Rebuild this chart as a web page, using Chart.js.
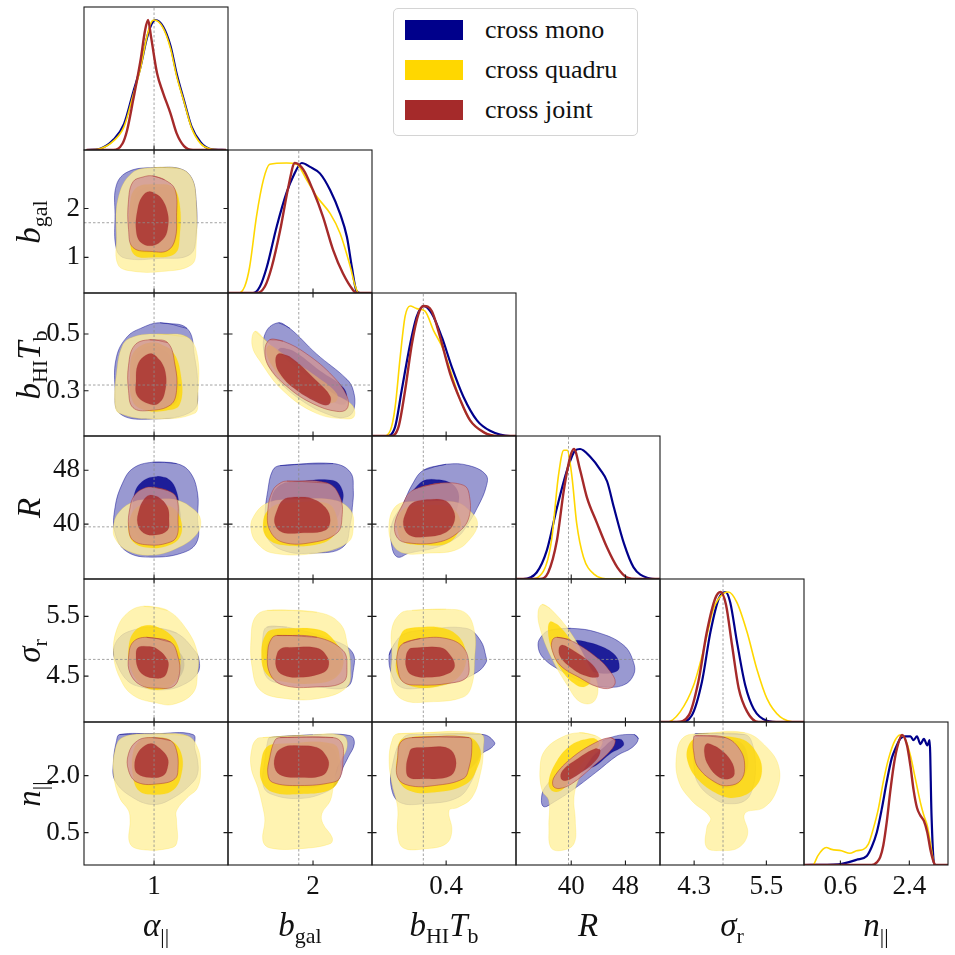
<!DOCTYPE html>
<html>
<head>
<meta charset="utf-8">
<script src="https://cdn.jsdelivr.net/npm/chart.js@4.4.1/dist/chart.umd.min.js"></script>
<style>
  html, body { margin: 0; padding: 0; background: #fff; }
  #wrap { position: relative; width: 955px; height: 955px; overflow: hidden; font-family: "Liberation Serif", serif; color: #111; }
  #wrap canvas { position: absolute; }
  .lab { position: absolute; font-size: 33px; line-height: 1; white-space: nowrap; }
  .lab i { font-style: italic; }
  .lab .s { font-size: 22px; position: relative; top: 7px; }
  .xlab { transform: translateX(-50%); }
  .ylab { transform: translate(-50%, -50%) rotate(-90deg); }
  #legend { position: absolute; left: 393px; top: 8px; width: 245px; height: 128px; box-sizing: border-box;
            border: 1px solid #d4d4d4; border-radius: 5px; background: #fff; }
  #legend .sw { position: absolute; left: 11px; width: 58px; height: 20px; }
  #legend .tx { position: absolute; left: 91px; font-size: 26px; line-height: 26px; }
</style>
</head>
<body>
<div id="wrap"></div>
<script>
// ---- axes (one entry per parameter) ----
const params = ['alpha_par', 'b_gal', 'bHI_Tb', 'R', 'sigma_r', 'n_par'];
const axisMin = [0.533, 0.27, 0.14, 31.85, 3.733, -0.35];
const axisMax = [1.493, 3.2, 0.645, 53.1, 6.125, 3.41];
const truth = [1.0, 1.71, 0.32, 39.6, 4.78, null];
const xTickVals = [[1], [2], [0.4], [40, 48], [4.3, 5.5], [0.6, 2.4]];
const xTickText = [['1'], ['2'], ['0.4'], ['40', '48'], ['4.3', '5.5'], ['0.6', '2.4']];
const yTickVals = [[], [1, 2], [0.3, 0.5], [40, 48], [4.5, 5.5], [0.5, 2.0]];
const yTickText = [[], ['1', '2'], ['0.3', '0.5'], ['40', '48'], ['4.5', '5.5'], ['0.5', '2.0']];
const seriesNames = ['cross mono', 'cross quadru', 'cross joint'];

// ---- 1D marginals: [value, normalised density] ----
const d0mono = [[0.55,0],[0.64,0.01],[0.73,0.08],[0.8,0.2],[0.86,0.44],[0.91,0.64],[0.95,0.85],[0.98,0.96],[1.01,1.0],[1.06,0.95],[1.11,0.8],[1.15,0.59],[1.2,0.38],[1.25,0.18],[1.31,0.06],[1.37,0.01],[1.48,0]];
const d0quad = [[0.55,0],[0.64,0.01],[0.73,0.07],[0.8,0.18],[0.86,0.42],[0.91,0.63],[0.95,0.86],[0.98,0.98],[1.0,1.0],[1.06,0.94],[1.11,0.78],[1.15,0.57],[1.2,0.37],[1.25,0.17],[1.31,0.05],[1.37,0.01],[1.48,0]];
const d0join = [[0.55,0],[0.73,0],[0.79,0.05],[0.82,0.15],[0.86,0.38],[0.91,0.69],[0.94,0.92],[0.96,1.0],[0.98,0.87],[1.02,0.59],[1.06,0.44],[1.11,0.28],[1.15,0.13],[1.2,0.03],[1.26,0],[1.48,0]];
const d1mono = [[0.28,0],[0.78,0],[0.92,0.05],[1.06,0.2],[1.26,0.51],[1.46,0.77],[1.6,0.9],[1.77,1.0],[1.94,0.97],[2.14,0.92],[2.35,0.79],[2.55,0.61],[2.69,0.43],[2.79,0.2],[2.88,0.02],[2.96,0],[3.2,0]];
const d1quad = [[0.28,0],[0.48,0],[0.61,0.05],[0.71,0.2],[0.85,0.59],[0.99,0.87],[1.12,0.99],[1.46,1.0],[1.67,0.99],[1.87,0.87],[2.08,0.74],[2.35,0.61],[2.55,0.46],[2.76,0.2],[2.86,0.05],[2.93,0],[3.2,0]];
const d1join = [[0.28,0],[0.85,0],[1.02,0.05],[1.16,0.2],[1.33,0.48],[1.5,0.82],[1.63,1.0],[1.8,0.95],[2.0,0.79],[2.2,0.59],[2.41,0.33],[2.61,0.15],[2.82,0.02],[2.88,0],[3.2,0]];
const d2mono = [[0.14,0],[0.191,0],[0.221,0.07],[0.244,0.35],[0.274,0.71],[0.297,0.92],[0.321,1.0],[0.35,0.94],[0.385,0.76],[0.42,0.53],[0.461,0.3],[0.508,0.12],[0.554,0.04],[0.625,0],[0.645,0]];
const d2quad = [[0.14,0],[0.18,0],[0.204,0.04],[0.221,0.22],[0.239,0.61],[0.256,0.92],[0.274,1.0],[0.297,0.98],[0.326,0.96],[0.356,0.81],[0.385,0.69],[0.414,0.51],[0.449,0.28],[0.484,0.12],[0.531,0.03],[0.589,0],[0.645,0]];
const d2join = [[0.14,0],[0.204,0],[0.233,0.07],[0.256,0.35],[0.28,0.71],[0.303,0.94],[0.321,1.0],[0.35,0.96],[0.379,0.76],[0.414,0.48],[0.449,0.28],[0.484,0.12],[0.531,0.03],[0.578,0],[0.645,0]];
const d3mono = [[31.85,0],[32.9,0],[34.9,0.05],[36.4,0.22],[37.9,0.55],[39.4,0.84],[40.6,0.99],[41.3,1.0],[42.8,0.94],[44.3,0.84],[45.3,0.75],[46.3,0.55],[47.8,0.27],[49.2,0.09],[51.2,0.01],[52.9,0],[53.1,0]];
const d3quad = [[31.85,0],[33.9,0],[35.9,0.06],[37.1,0.3],[38.1,0.79],[38.9,0.99],[39.4,0.99],[40.1,0.79],[40.8,0.43],[41.8,0.17],[43.3,0.04],[45.8,0],[53.1,0]];
const d3join = [[31.85,0],[35.4,0],[36.6,0.05],[37.9,0.3],[38.9,0.68],[39.85,0.94],[40.4,1.0],[41.3,0.84],[42.3,0.63],[43.8,0.43],[45.3,0.24],[46.8,0.09],[48.3,0.01],[49.7,0],[53.1,0]];
const d4mono = [[3.733,0],[4.07,0],[4.26,0.05],[4.43,0.31],[4.57,0.69],[4.71,0.95],[4.82,1.0],[4.9,0.92],[5.01,0.62],[5.15,0.28],[5.29,0.1],[5.51,0.01],[5.73,0],[6.125,0]];
const d4quad = [[3.733,0],[3.85,0],[4.07,0.08],[4.29,0.28],[4.46,0.56],[4.62,0.87],[4.79,0.99],[4.87,1.0],[5.01,0.92],[5.18,0.69],[5.34,0.41],[5.51,0.18],[5.73,0.04],[6.01,0],[6.125,0]];
const d4join = [[3.733,0],[4.01,0],[4.21,0.05],[4.37,0.31],[4.51,0.69],[4.65,0.95],[4.74,1.0],[4.83,0.9],[4.93,0.59],[5.04,0.26],[5.18,0.08],[5.37,0],[6.125,0]];
const d5mono = [[-0.35,0],[0.54,0.005],[0.8,0.02],[1.02,0.04],[1.29,0.07],[1.42,0.14],[1.55,0.25],[1.68,0.43],[1.81,0.64],[1.94,0.82],[2.03,0.89],[2.16,0.97],[2.29,0.99],[2.43,0.99],[2.51,0.96],[2.6,0.99],[2.69,0.93],[2.78,0.97],[2.87,0.92],[2.93,0.96],[2.98,0.38],[3.04,0.02],[3.08,0],[3.41,0]];
const d5quad = [[-0.35,0],[-0.12,0],[0.01,0.07],[0.14,0.12],[0.23,0.135],[0.37,0.12],[0.63,0.11],[0.85,0.09],[1.02,0.11],[1.2,0.12],[1.33,0.16],[1.46,0.28],[1.59,0.43],[1.72,0.64],[1.86,0.82],[2.03,0.96],[2.16,1.0],[2.29,0.97],[2.43,0.84],[2.56,0.66],[2.69,0.48],[2.78,0.38],[2.87,0.3],[2.95,0.17],[3.04,0.02],[3.08,0],[3.41,0]];
const d5join = [[-0.35,0],[1.42,0],[1.55,0.02],[1.64,0.06],[1.72,0.15],[1.81,0.33],[1.9,0.56],[1.99,0.76],[2.08,0.9],[2.21,1.0],[2.34,0.92],[2.43,0.76],[2.51,0.58],[2.6,0.44],[2.69,0.38],[2.78,0.34],[2.87,0.25],[2.95,0.12],[3.04,0.02],[3.08,0],[3.41,0]];

// ---- 2D contours [x, y]; o = 95% region, i = 68% region ----
const mono10o = [[1.0,2.84],[1.17,2.82],[1.25,2.63],[1.28,2.18],[1.28,1.47],[1.24,1.06],[1.04,0.98],[0.81,0.98],[0.75,1.16],[0.74,1.88],[0.75,2.49],[0.83,2.76]];
const mono10i = [[1.0,2.45],[1.12,2.4],[1.16,2.0],[1.15,1.4],[1.1,1.15],[1.0,1.1],[0.88,1.15],[0.85,1.5],[0.86,2.1],[0.9,2.38]];
const quad10o = [[1.0,2.84],[1.17,2.82],[1.25,2.63],[1.28,2.18],[1.28,1.2],[1.25,0.85],[1.05,0.71],[0.85,0.72],[0.76,0.85],[0.75,1.4],[0.76,2.2],[0.85,2.72]];
const quad10i = [[0.99,2.5],[1.12,2.45],[1.17,2.1],[1.17,1.4],[1.14,1.08],[1.0,1.0],[0.87,1.05],[0.84,1.4],[0.84,2.1],[0.88,2.42]];
const join10o = [[0.99,2.67],[1.07,2.59],[1.14,2.39],[1.15,1.84],[1.14,1.37],[1.09,1.14],[0.99,1.12],[0.86,1.2],[0.83,1.57],[0.83,2.18],[0.86,2.55],[0.93,2.65]];
const join10i = [[0.97,2.35],[1.04,2.24],[1.09,1.92],[1.09,1.57],[1.06,1.37],[0.99,1.24],[0.91,1.31],[0.88,1.57],[0.89,1.98],[0.92,2.24]];

const mono20o = [[1.04,0.54],[1.22,0.52],[1.27,0.42],[1.29,0.31],[1.26,0.23],[0.99,0.2],[0.77,0.22],[0.74,0.31],[0.75,0.42],[0.82,0.49],[0.91,0.52]];
const mono20i = [[1.0,0.46],[1.1,0.43],[1.16,0.35],[1.15,0.26],[1.05,0.24],[0.93,0.25],[0.86,0.3],[0.86,0.39],[0.9,0.44]];
const quad20o = [[1.02,0.5],[1.22,0.49],[1.29,0.42],[1.29,0.27],[1.27,0.22],[0.99,0.2],[0.77,0.22],[0.74,0.25],[0.75,0.36],[0.79,0.46],[0.86,0.49]];
const quad20i = [[1.0,0.47],[1.12,0.44],[1.18,0.35],[1.17,0.25],[1.08,0.23],[0.95,0.23],[0.86,0.26],[0.84,0.36],[0.87,0.44]];
const join20o = [[0.97,0.48],[1.09,0.47],[1.14,0.39],[1.15,0.3],[1.11,0.25],[0.97,0.23],[0.86,0.24],[0.83,0.3],[0.83,0.39],[0.87,0.46]];
const join20i = [[0.99,0.43],[1.05,0.4],[1.08,0.35],[1.07,0.29],[1.04,0.26],[0.99,0.25],[0.89,0.28],[0.88,0.34],[0.89,0.39],[0.93,0.42]];

const mono30o = [[0.99,49.2],[1.15,49.0],[1.24,47.7],[1.29,44.6],[1.29,41.0],[1.29,37.6],[1.21,35.9],[0.99,35.1],[0.82,35.9],[0.74,38.7],[0.74,42.5],[0.79,46.1],[0.86,48.3]];
const mono30i = [[1.02,47.1],[1.09,46.8],[1.14,45.5],[1.17,42.5],[1.17,40.1],[1.09,37.6],[0.97,37.2],[0.89,38.1],[0.86,41.0],[0.87,44.6],[0.93,46.5]];
const quad30o = [[0.99,43.7],[1.15,43.6],[1.27,42.1],[1.31,40.6],[1.29,38.7],[1.17,36.6],[0.99,35.4],[0.82,36.1],[0.74,37.9],[0.73,39.6],[0.76,41.6],[0.86,43.3]];
const quad30i = [[1.0,43.0],[1.12,42.5],[1.18,40.5],[1.17,38.0],[1.08,36.7],[0.97,36.5],[0.87,37.2],[0.83,39.0],[0.85,41.5],[0.9,42.7]];
const join30o = [[0.99,45.5],[1.09,45.0],[1.15,43.9],[1.16,40.6],[1.15,38.1],[1.09,37.2],[0.97,36.9],[0.86,37.6],[0.83,39.6],[0.84,42.5],[0.87,44.3],[0.93,45.3]];
const join30i = [[0.97,44.3],[1.03,44.0],[1.09,42.5],[1.1,40.6],[1.09,39.1],[1.01,38.4],[0.93,38.7],[0.89,40.1],[0.9,42.1],[0.93,43.6]];

const mono40o = [[0.99,5.32],[1.15,5.22],[1.27,4.93],[1.3,4.77],[1.29,4.55],[1.19,4.35],[1.06,4.27],[0.91,4.32],[0.82,4.43],[0.75,4.72],[0.73,4.93],[0.77,5.15],[0.86,5.27]];
const mono40i = [[0.98,5.1],[1.12,5.0],[1.2,4.75],[1.16,4.45],[1.05,4.35],[0.92,4.4],[0.84,4.6],[0.84,4.9],[0.9,5.05]];
const quad40o = [[0.93,5.67],[1.09,5.6],[1.22,5.27],[1.29,4.88],[1.29,4.55],[1.26,4.22],[1.13,4.03],[1.02,4.05],[0.86,4.18],[0.77,4.48],[0.73,4.88],[0.75,5.27],[0.82,5.55]];
const quad40i = [[0.97,5.35],[1.08,5.25],[1.16,5.0],[1.17,4.6],[1.12,4.35],[1.02,4.27],[0.92,4.35],[0.85,4.6],[0.83,4.95],[0.87,5.25]];
const join40o = [[0.95,5.15],[1.11,5.07],[1.16,4.82],[1.17,4.55],[1.13,4.33],[1.02,4.3],[0.91,4.35],[0.84,4.55],[0.83,4.82],[0.86,5.07]];
const join40i = [[0.93,5.0],[1.01,4.97],[1.09,4.77],[1.09,4.6],[1.06,4.48],[0.99,4.47],[0.93,4.52],[0.89,4.65],[0.88,4.85],[0.89,4.97]];

const mono50o = [[0.77,3.08],[1.0,3.1],[1.26,3.08],[1.27,2.74],[1.29,2.4],[1.29,2.05],[1.25,1.79],[1.13,1.42],[1.0,1.24],[0.86,1.42],[0.74,1.87],[0.73,2.4],[0.75,2.92]];
const mono50i = [[0.97,3.0],[1.1,2.95],[1.15,2.6],[1.14,2.1],[1.07,1.8],[0.95,1.75],[0.88,1.95],[0.86,2.5],[0.9,2.9]];
const quad50o = [[0.99,3.1],[1.22,3.05],[1.29,2.74],[1.31,2.21],[1.29,1.68],[1.22,1.42],[1.15,1.08],[1.15,0.82],[1.15,0.21],[1.09,0.08],[0.93,0.05],[0.84,0.21],[0.84,0.82],[0.83,1.08],[0.77,1.42],[0.73,2.05],[0.74,2.66],[0.79,3.0]];
const quad50i = [[0.97,3.0],[1.1,2.95],[1.18,2.6],[1.18,2.0],[1.12,1.6],[1.0,1.5],[0.9,1.6],[0.86,2.0],[0.86,2.6],[0.9,2.9]];
const join50o = [[0.99,3.0],[1.11,2.92],[1.15,2.66],[1.16,2.21],[1.14,1.92],[1.04,1.79],[0.89,1.82],[0.83,2.13],[0.83,2.58],[0.89,2.92]];
const join50i = [[0.99,2.84],[1.04,2.71],[1.09,2.47],[1.09,2.21],[1.06,2.0],[0.97,1.95],[0.89,2.05],[0.87,2.26],[0.89,2.58],[0.94,2.79]];

const mono21o = [[1.3,0.54],[1.53,0.52],[2.07,0.43],[2.69,0.34],[2.82,0.3],[2.84,0.24],[2.72,0.21],[2.41,0.21],[1.73,0.27],[1.19,0.36],[1.0,0.44],[1.05,0.51]];
const mono21i = [[1.33,0.45],[1.6,0.44],[2.14,0.37],[2.62,0.31],[2.69,0.265],[2.62,0.25],[2.35,0.265],[1.73,0.32],[1.36,0.38],[1.26,0.42]];
const quad21o = [[0.82,0.51],[1.05,0.475],[1.73,0.37],[2.41,0.29],[2.79,0.25],[2.84,0.21],[2.69,0.2],[2.07,0.22],[1.39,0.3],[0.92,0.405],[0.76,0.46]];
const quad21i = [[1.12,0.46],[1.39,0.43],[2.07,0.35],[2.48,0.29],[2.45,0.26],[2.14,0.265],[1.53,0.32],[1.16,0.39],[1.05,0.44]];
const join21o = [[1.12,0.48],[1.39,0.475],[1.87,0.43],[2.41,0.35],[2.69,0.28],[2.69,0.236],[2.48,0.227],[2.01,0.253],[1.53,0.306],[1.12,0.38],[1.02,0.44]];
const join21i = [[1.29,0.43],[1.53,0.42],[2.07,0.335],[2.35,0.28],[2.31,0.25],[2.07,0.26],[1.6,0.31],[1.33,0.36],[1.24,0.4]];

const mono31o = [[1.33,48.7],[2.41,49.0],[2.76,47.7],[2.82,45.0],[2.8,42.5],[2.76,40.1],[2.61,36.6],[2.0,35.7],[1.39,36.1],[1.06,38.1],[1.02,41.0],[1.08,45.0],[1.18,48.0]];
const mono31i = [[1.6,46.3],[2.41,46.5],[2.6,45.0],[2.58,42.8],[2.41,40.1],[2.01,38.6],[1.46,39.1],[1.19,41.1],[1.16,44.0],[1.33,45.8]];
const quad31o = [[1.59,43.7],[2.41,43.6],[2.76,42.1],[2.82,39.6],[2.71,37.3],[2.08,35.7],[1.18,35.7],[0.86,37.2],[0.74,39.1],[0.78,41.0],[1.06,43.1]];
const quad31i = [[1.39,43.1],[2.28,43.1],[2.48,41.1],[2.45,38.6],[2.14,37.1],[1.39,36.9],[1.05,38.1],[0.99,40.6],[1.12,42.3]];
const join31o = [[1.47,46.4],[2.29,46.1],[2.55,44.0],[2.59,41.0],[2.49,38.7],[2.0,37.3],[1.39,37.3],[1.12,39.1],[1.08,42.1],[1.18,45.0],[1.33,46.1]];
const join31i = [[1.59,44.0],[1.94,43.9],[2.25,42.5],[2.35,40.6],[2.25,39.1],[1.74,38.7],[1.37,38.8],[1.22,40.1],[1.27,42.1],[1.39,43.6]];

const mono41o = [[1.06,5.32],[1.47,5.32],[2.41,5.1],[2.8,4.9],[2.82,4.6],[2.69,4.32],[2.08,4.32],[1.39,4.37],[1.06,4.48],[0.98,4.82],[0.98,5.15]];
const mono41i = [[1.3,5.2],[2.1,5.1],[2.5,4.9],[2.55,4.6],[2.3,4.45],[1.6,4.45],[1.2,4.55],[1.05,4.8],[1.1,5.1]];
const quad41o = [[1.06,5.6],[2.08,5.57],[2.55,5.38],[2.71,4.98],[2.76,4.65],[2.69,4.32],[2.14,4.13],[1.39,4.13],[0.92,4.27],[0.76,4.65],[0.74,5.15],[0.82,5.48]];
const quad41i = [[1.26,5.29],[2.14,5.27],[2.48,5.04],[2.62,4.77],[2.48,4.49],[2.07,4.38],[1.39,4.41],[1.05,4.54],[0.95,4.88],[1.05,5.21]];
const join41o = [[1.27,5.18],[2.08,5.15],[2.61,4.93],[2.69,4.65],[2.61,4.4],[2.08,4.32],[1.39,4.35],[1.12,4.55],[1.08,4.93],[1.16,5.13]];
const join41i = [[1.53,4.98],[2.08,4.97],[2.29,4.82],[2.31,4.65],[2.18,4.55],[1.74,4.48],[1.39,4.52],[1.25,4.65],[1.27,4.88],[1.37,4.97]];

const mono51o = [[1.12,3.0],[2.0,3.07],[2.76,3.05],[2.84,2.84],[2.71,2.47],[2.61,2.21],[2.51,1.87],[2.31,1.6],[1.74,1.4],[1.12,1.53],[0.98,1.79],[1.02,2.4],[1.08,2.92]];
const mono51i = [[1.3,2.8],[2.3,2.8],[2.5,2.5],[2.45,2.0],[2.2,1.75],[1.6,1.7],[1.2,1.85],[1.1,2.3],[1.15,2.7]];
const quad51o = [[0.98,3.0],[1.8,3.06],[2.61,3.05],[2.69,2.74],[2.49,2.21],[2.41,1.68],[2.35,1.34],[2.18,1.0],[2.2,0.74],[2.39,0.37],[2.35,0.21],[1.74,0.08],[1.12,0.1],[0.98,0.29],[1.02,0.82],[0.98,1.16],[0.88,1.68],[0.74,2.21],[0.76,2.74],[0.86,2.97]];
const quad51i = [[1.26,2.83],[2.41,2.83],[2.55,2.39],[2.52,1.87],[2.31,1.61],[1.73,1.52],[1.19,1.56],[0.95,1.87],[0.95,2.39],[1.05,2.74]];
const join51o = [[1.33,3.0],[2.41,3.0],[2.59,2.84],[2.61,2.4],[2.55,1.95],[2.39,1.82],[1.74,1.74],[1.18,1.82],[1.08,2.05],[1.12,2.47],[1.22,2.92]];
const join51i = [[1.59,2.79],[2.08,2.74],[2.29,2.47],[2.31,2.21],[2.18,2.0],[1.74,1.95],[1.37,2.0],[1.22,2.21],[1.25,2.58],[1.39,2.74]];

const mono32o = [[0.32,48.0],[0.4,48.9],[0.48,48.7],[0.54,47.3],[0.54,45.5],[0.51,42.5],[0.47,39.6],[0.44,38.1],[0.37,36.6],[0.27,35.7],[0.23,35.1],[0.21,36.6],[0.21,40.1],[0.25,43.1],[0.28,45.8]];
const mono32i = [[0.33,46.6],[0.4,46.4],[0.44,45.0],[0.44,42.6],[0.41,40.1],[0.34,38.9],[0.27,38.9],[0.24,40.6],[0.25,43.1],[0.29,45.3]];
const quad32o = [[0.26,43.3],[0.43,43.3],[0.48,42.1],[0.51,40.1],[0.48,37.6],[0.43,36.1],[0.34,35.7],[0.25,35.7],[0.21,37.2],[0.2,40.1],[0.22,42.5]];
const quad32i = [[0.27,42.6],[0.41,42.6],[0.45,40.6],[0.44,38.6],[0.4,37.1],[0.32,36.9],[0.25,37.4],[0.23,39.1],[0.23,41.1]];
const join32o = [[0.31,45.5],[0.38,46.1],[0.46,45.8],[0.48,44.6],[0.48,41.0],[0.44,38.7],[0.37,37.3],[0.27,37.2],[0.23,37.9],[0.22,40.1],[0.25,43.1],[0.27,44.6]];
const join32i = [[0.32,43.6],[0.39,43.6],[0.42,42.5],[0.43,40.6],[0.4,38.8],[0.32,38.1],[0.27,38.4],[0.25,39.9],[0.26,41.8],[0.28,43.1]];

const mono42o = [[0.2,4.85],[0.22,5.05],[0.25,5.2],[0.32,5.27],[0.47,5.3],[0.52,5.1],[0.54,4.82],[0.54,4.73],[0.51,4.57],[0.43,4.4],[0.31,4.3],[0.24,4.32],[0.21,4.52]];
const mono42i = [[0.27,5.05],[0.38,5.05],[0.45,4.9],[0.46,4.6],[0.4,4.42],[0.3,4.4],[0.24,4.55],[0.23,4.85]];
const quad42o = [[0.28,5.6],[0.4,5.62],[0.47,5.55],[0.5,5.23],[0.5,4.8],[0.49,4.35],[0.46,4.15],[0.34,4.07],[0.25,4.1],[0.21,4.35],[0.21,4.85],[0.21,5.3],[0.24,5.55]];
const quad42i = [[0.26,5.29],[0.37,5.32],[0.44,5.18],[0.47,4.85],[0.45,4.52],[0.39,4.35],[0.29,4.32],[0.23,4.52],[0.23,4.96],[0.24,5.18]];
const join42o = [[0.25,5.05],[0.31,5.13],[0.4,5.13],[0.46,4.98],[0.48,4.68],[0.47,4.47],[0.41,4.38],[0.31,4.35],[0.25,4.4],[0.23,4.63],[0.23,4.9]];
const join42i = [[0.28,4.97],[0.38,4.98],[0.41,4.88],[0.43,4.68],[0.41,4.55],[0.34,4.48],[0.28,4.52],[0.26,4.65],[0.26,4.85],[0.27,4.95]];

const mono52o = [[0.31,3.08],[0.53,3.08],[0.57,2.87],[0.56,2.74],[0.52,2.53],[0.49,1.87],[0.44,1.42],[0.32,1.26],[0.24,1.29],[0.21,1.61],[0.21,2.21],[0.25,3.0]];
const mono52i = [[0.28,2.9],[0.48,2.95],[0.52,2.7],[0.5,2.3],[0.44,2.0],[0.34,1.85],[0.27,1.95],[0.25,2.4]];
const quad52o = [[0.23,3.1],[0.52,3.1],[0.53,2.66],[0.52,2.05],[0.49,1.42],[0.44,1.16],[0.41,1.08],[0.42,0.55],[0.4,0.21],[0.33,0.08],[0.25,0.1],[0.23,0.47],[0.23,1.16],[0.21,1.79],[0.2,2.4],[0.21,2.92]];
const quad52i = [[0.25,2.97],[0.48,3.01],[0.52,2.66],[0.51,2.22],[0.47,1.78],[0.36,1.56],[0.27,1.61],[0.23,1.96],[0.23,2.57]];
const join52o = [[0.28,3.0],[0.48,3.0],[0.49,2.74],[0.48,2.21],[0.46,1.92],[0.36,1.74],[0.27,1.74],[0.23,1.95],[0.23,2.47],[0.24,2.87]];
const join52i = [[0.32,2.74],[0.4,2.74],[0.43,2.53],[0.43,2.13],[0.4,1.95],[0.32,1.92],[0.27,1.95],[0.26,2.21],[0.27,2.58],[0.28,2.71]];

const mono43o = [[36.9,5.27],[39.9,5.3],[43.9,5.23],[47.7,5.02],[49.2,4.73],[49.2,4.52],[47.7,4.35],[44.7,4.32],[41.8,4.4],[38.8,4.57],[35.9,4.8],[35.1,5.02],[35.7,5.18]];
const mono43i = [[40.9,5.1],[43.9,5.02],[46.5,4.85],[47.1,4.65],[46.5,4.57],[44.3,4.55],[41.8,4.65],[40.1,4.85],[40.1,5.05]];
const quad43o = [[35.7,5.7],[36.9,5.63],[39.9,5.23],[42.4,4.73],[43.9,4.35],[43.3,4.07],[41.3,4.07],[39.4,4.35],[36.9,4.85],[35.4,5.3],[35.1,5.57]];
const quad43i = [[36.9,5.41],[38.1,5.35],[40.4,5.02],[42.3,4.63],[42.8,4.41],[41.8,4.32],[40.4,4.38],[38.4,4.63],[37.1,4.96],[36.6,5.24]];
const join43o = [[37.9,5.15],[39.9,5.1],[43.9,4.8],[45.8,4.57],[46.5,4.4],[45.8,4.3],[43.9,4.32],[41.3,4.47],[38.4,4.68],[37.2,4.93],[37.2,5.1]];
const join43i = [[38.7,5.02],[40.3,4.93],[42.8,4.73],[44.0,4.55],[43.9,4.48],[41.8,4.52],[39.9,4.65],[38.4,4.82],[38.2,4.97]];

const mono53o = [[49.3,3.08],[49.9,2.97],[49.0,2.74],[46.8,2.53],[43.6,2.08],[40.1,1.61],[37.3,1.29],[36.0,1.18],[35.6,1.34],[36.1,1.68],[39.0,2.21],[42.4,2.66],[45.8,3.0]];
const mono53i = [[46.2,2.95],[47.4,2.95],[47.7,2.79],[45.8,2.58],[43.6,2.26],[42.4,2.18],[40.7,2.0],[40.2,2.05],[41.7,2.3],[44.6,2.71]];
const quad53o = [[41.2,3.13],[43.6,3.05],[44.6,2.87],[43.0,2.47],[41.2,1.95],[40.4,1.42],[40.6,0.82],[40.4,0.21],[38.5,0.03],[37.0,0.11],[36.7,0.63],[36.7,1.34],[35.7,1.61],[35.4,2.21],[36.1,2.66],[38.5,3.0]];
const quad53i = [[41.3,2.92],[43.5,2.97],[44.1,2.79],[42.1,2.44],[40.1,1.96],[38.5,1.61],[37.1,1.61],[36.7,1.87],[37.9,2.39],[39.6,2.75]];
const join53o = [[45.8,3.0],[46.5,2.92],[45.8,2.66],[43.0,2.21],[40.1,1.79],[38.2,1.66],[37.3,1.74],[37.6,2.0],[40.1,2.47],[43.6,2.87]];
const join53i = [[43.6,2.71],[44.3,2.66],[43.6,2.39],[41.2,2.05],[39.3,1.87],[38.5,1.92],[38.7,2.13],[41.0,2.45]];

const mono54o = [[4.32,3.1],[5.14,3.08],[5.26,2.87],[5.32,2.21],[5.26,1.61],[5.14,1.34],[4.91,1.26],[4.69,1.34],[4.37,1.79],[4.29,2.4],[4.29,3.0]];
const mono54i = [[4.44,2.95],[5.04,2.9],[5.19,2.5],[5.14,2.0],[4.94,1.7],[4.69,1.75],[4.49,2.1],[4.39,2.6]];
const quad54o = [[4.37,3.1],[5.14,3.13],[5.51,2.74],[5.71,2.21],[5.67,1.61],[5.46,1.16],[5.14,1.0],[5.19,0.47],[5.04,0.11],[4.76,0.03],[4.51,0.11],[4.51,0.63],[4.57,0.9],[4.26,1.34],[4.04,1.87],[4.01,2.58],[4.12,3.0]];
const quad54i = [[4.38,3.01],[5.07,2.97],[5.35,2.57],[5.42,2.04],[5.26,1.61],[5.01,1.43],[4.76,1.47],[4.38,1.87],[4.19,2.39],[4.22,2.83]];
const join54o = [[4.32,3.05],[4.82,3.0],[5.07,2.66],[5.14,2.21],[5.07,1.87],[4.89,1.74],[4.69,1.79],[4.37,2.21],[4.29,2.66],[4.29,2.97]];
const join54i = [[4.51,2.84],[4.69,2.74],[4.91,2.4],[4.97,2.05],[4.89,1.92],[4.72,1.95],[4.54,2.26],[4.47,2.61]];

// panel table built from the arrays above: [row, col, mono95, mono68, quad95, quad68, joint95, joint68]
const panels2d = [
  [1, 0, mono10o, mono10i, quad10o, quad10i, join10o, join10i],
  [2, 0, mono20o, mono20i, quad20o, quad20i, join20o, join20i],
  [3, 0, mono30o, mono30i, quad30o, quad30i, join30o, join30i],
  [4, 0, mono40o, mono40i, quad40o, quad40i, join40o, join40i],
  [5, 0, mono50o, mono50i, quad50o, quad50i, join50o, join50i],
  [2, 1, mono21o, mono21i, quad21o, quad21i, join21o, join21i],
  [3, 1, mono31o, mono31i, quad31o, quad31i, join31o, join31i],
  [4, 1, mono41o, mono41i, quad41o, quad41i, join41o, join41i],
  [5, 1, mono51o, mono51i, quad51o, quad51i, join51o, join51i],
  [3, 2, mono32o, mono32i, quad32o, quad32i, join32o, join32i],
  [4, 2, mono42o, mono42i, quad42o, quad42i, join42o, join42i],
  [5, 2, mono52o, mono52i, quad52o, quad52i, join52o, join52i],
  [4, 3, mono43o, mono43i, quad43o, quad43i, join43o, join43i],
  [5, 3, mono53o, mono53i, quad53o, quad53i, join53o, join53i],
  [5, 4, mono54o, mono54i, quad54o, quad54i, join54o, join54i]
];
const panels1d = [
  [d0mono, d0quad, d0join], [d1mono, d1quad, d1join], [d2mono, d2quad, d2join],
  [d3mono, d3quad, d3join], [d4mono, d4quad, d4join], [d5mono, d5quad, d5join]
];

// ---- styling ----
const seriesRGB = [[0, 0, 139], [255, 215, 0], [165, 42, 42]];
const whiteMix = [0.5, 0.62, 0.5];     // how pale the 95% fill is
const lineWidths = [2.2, 1.6, 2.4];
const rgba = (c, a) => `rgba(${c[0]},${c[1]},${c[2]},${a})`;
const light = (c, m) => c.map(v => Math.round(v + (255 - v) * m));
const FONT = 'Liberation Serif';
const PX0 = 84, PY0 = 7, PW = 144, PH = 143;
const wrap = document.getElementById('wrap');

function toXY(pts) { return pts.map(p => ({ x: p[0], y: p[1] })); }

function contourSet(pts, s, outer) {
  const rgb = seriesRGB[s];
  return {
    data: toXY(pts.concat([pts[0], pts[1]])),
    showLine: true, fill: 'shape', tension: 0.4, pointRadius: 0,
    backgroundColor: rgba(outer ? light(rgb, whiteMix[s]) : rgb, 0.8),
    borderColor: rgba(rgb, outer ? (s === 1 ? 0.25 : 0.55) : 0.25),
    borderWidth: outer ? 0.8 : 0.5
  };
}

function curveSet(pts, k) {
  return {
    data: toXY(pts), showLine: true, fill: false, pointRadius: 0,
    cubicInterpolationMode: 'monotone',
    borderColor: rgba(seriesRGB[k], 1), borderWidth: lineWidths[k]
  };
}

function truthSet(a, b) {
  return {
    data: toXY([a, b]), showLine: true, fill: false, pointRadius: 0,
    borderColor: '#8c8c8c', borderWidth: 0.8, borderDash: [2.5, 2]
  };
}

function framePlugin(diag) {
  return {
    id: 'frame',
    afterDatasetsDraw(chart) {
      const { ctx, chartArea: a, scales } = chart;
      const len = 4.5;
      ctx.save();
      ctx.strokeStyle = '#1a1a1a';
      ctx.lineWidth = 1.1;
      ctx.beginPath();
      scales.x.ticks.forEach(t => {
        const px = scales.x.getPixelForValue(t.value);
        ctx.moveTo(px, a.bottom); ctx.lineTo(px, a.bottom - len);
        if (!diag) { ctx.moveTo(px, a.top); ctx.lineTo(px, a.top + len); }
      });
      if (!diag) {
        scales.y.ticks.forEach(t => {
          const py = scales.y.getPixelForValue(t.value);
          ctx.moveTo(a.left, py); ctx.lineTo(a.left + len, py);
          ctx.moveTo(a.right, py); ctx.lineTo(a.right - len, py);
        });
      }
      ctx.stroke();
      ctx.strokeRect(a.left, a.top, a.right - a.left, a.bottom - a.top);
      ctx.restore();
    }
  };
}

function axis(isX, show, size, min, max, vals, texts) {
  return {
    type: 'linear', position: isX ? 'bottom' : 'left', min, max,
    grid: { display: false, drawTicks: false },
    border: { display: false },
    ticks: {
      display: show, autoSkip: false, maxRotation: 0, color: '#111',
      padding: isX ? 6 : 4, font: { family: FONT, size: 27 },
      callback: (v, idx) => texts[idx]
    },
    afterBuildTicks: s => { s.ticks = vals.map(v => ({ value: v })); },
    afterFit: s => { if (isX) s.height = size; else s.width = size; }
  };
}

function addPanel(i, j, datasets) {
  const diag = i === j;
  const showY = j === 0 && i > 0;
  const showX = i === 5;
  // room around the plot area; the y tick labels ask for ~20px above and below
  const extL = showY ? 84 : 2;
  const extT = showY ? 22 : 2;
  const extB = showX ? 46 : (showY ? 22 : 2);
  const cv = document.createElement('canvas');
  cv.width = PW + extL + 2;
  cv.height = PH + extT + extB;
  cv.style.left = (PX0 + PW * j - extL) + 'px';
  cv.style.top = (PY0 + PH * i - extT) + 'px';
  wrap.appendChild(cv);
  const yMin = diag ? 0 : axisMin[i], yMax = diag ? 1.1 : axisMax[i];
  new Chart(cv, {
    type: 'scatter',
    data: { datasets: datasets.slice().reverse() },
    options: {
      responsive: false, animation: false, events: [],
      layout: { autoPadding: false, padding: { left: showY ? 0 : 2, right: 2, top: extT, bottom: showX ? 0 : extB } },
      plugins: { legend: { display: false }, tooltip: { enabled: false } },
      scales: {
        x: axis(true, showX, showX ? 46 : 0, axisMin[j], axisMax[j], xTickVals[j], xTickText[j]),
        y: axis(false, showY, showY ? 84 : 0, yMin, yMax, diag ? [] : yTickVals[i], diag ? [] : yTickText[i])
      }
    },
    plugins: [framePlugin(diag)]
  });
}

// diagonal panels (drawing order: truth, mono, quadru, joint)
panels1d.forEach((curves, k) => {
  const sets = [];
  if (truth[k] !== null) sets.push(truthSet([truth[k], 0], [truth[k], 1.1]));
  curves.forEach((pts, s) => sets.push(curveSet(pts, s)));
  addPanel(k, k, sets);
});

// off-diagonal panels (drawing order: mono 95/68, quadru 95/68, joint 95/68, truth lines)
panels2d.forEach(row => {
  const [i, j] = row;
  const sets = [];
  for (let s = 0; s < 3; s++) {
    sets.push(contourSet(row[2 + 2 * s], s, true));
    sets.push(contourSet(row[3 + 2 * s], s, false));
  }
  if (truth[j] !== null) sets.push(truthSet([truth[j], axisMin[i]], [truth[j], axisMax[i]]));
  if (truth[i] !== null) sets.push(truthSet([axisMin[j], truth[i]], [axisMax[j], truth[i]]));
  addPanel(i, j, sets);
});

// axis titles
const titles = [
  '<i>α</i><span class="s">||</span>',
  '<i>b</i><span class="s">gal</span>',
  '<i>b</i><span class="s">HI</span><i>T</i><span class="s">b</span>',
  '<i>R</i>',
  '<i>σ</i><span class="s">r</span>',
  '<i>n</i><span class="s">||</span>'
];
titles.forEach((html, k) => {
  const xl = document.createElement('div');
  xl.className = 'lab xlab';
  xl.innerHTML = html;
  xl.style.left = (PX0 + PW * k + PW / 2) + 'px';
  xl.style.top = '909px';
  wrap.appendChild(xl);
  if (k > 0) {
    const yl = document.createElement('div');
    yl.className = 'lab ylab';
    yl.innerHTML = html;
    yl.style.left = '29px';
    yl.style.top = (PY0 + PH * k + PH / 2) + 'px';
    wrap.appendChild(yl);
  }
});

// legend
const legend = document.createElement('div');
legend.id = 'legend';
seriesNames.forEach((name, k) => {
  const sw = document.createElement('div');
  sw.className = 'sw';
  sw.style.top = (11 + 40 * k) + 'px';
  sw.style.background = rgba(seriesRGB[k], 1);
  const tx = document.createElement('div');
  tx.className = 'tx';
  tx.style.top = (8 + 40 * k) + 'px';
  tx.textContent = name;
  legend.appendChild(sw);
  legend.appendChild(tx);
});
wrap.appendChild(legend);
</script>
</body>
</html>
